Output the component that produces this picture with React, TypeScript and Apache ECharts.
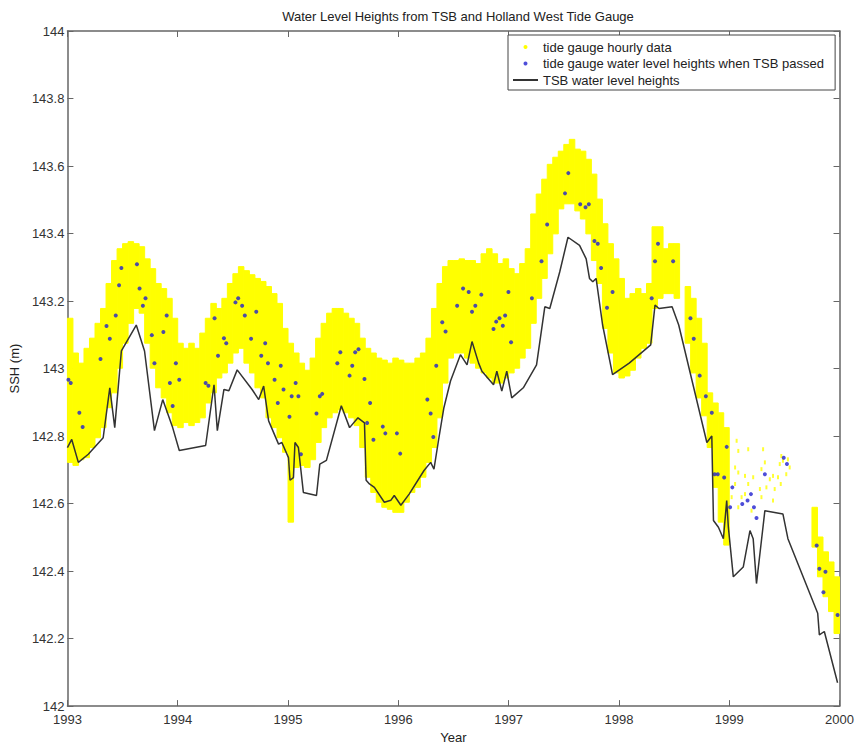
import React, { useEffect, useRef } from "react";
import * as echarts from "echarts";

// ---------- data ----------
const xTickYears = [1993, 1994, 1995, 1996, 1997, 1998, 1999, 2000];

// hourly tide gauge data, summarised as min/max envelope per 0.05-year bin
const BIN = 0.05;
const hourlyBinYear = [
  1993.00, 1993.05, 1993.10, 1993.15, 1993.20, 1993.25, 1993.30, 1993.35, 1993.40, 1993.45,
  1993.50, 1993.55, 1993.60, 1993.65, 1993.70, 1993.75, 1993.80, 1993.85, 1993.90, 1993.95,
  1994.00, 1994.05, 1994.10, 1994.15, 1994.20, 1994.25, 1994.30, 1994.35, 1994.40, 1994.45,
  1994.50, 1994.55, 1994.60, 1994.65, 1994.70, 1994.75, 1994.80, 1994.85, 1994.90, 1994.95,
  1995.00, 1995.05, 1995.10, 1995.15, 1995.20, 1995.25, 1995.30, 1995.35, 1995.40, 1995.45,
  1995.50, 1995.55, 1995.60, 1995.65, 1995.70, 1995.75, 1995.80, 1995.85, 1995.90, 1995.95,
  1996.00, 1996.05, 1996.10, 1996.15, 1996.20, 1996.25, 1996.30, 1996.35, 1996.40, 1996.45,
  1996.50, 1996.55, 1996.60, 1996.65, 1996.70, 1996.75, 1996.80, 1996.85, 1996.90, 1996.95,
  1997.00, 1997.05, 1997.10, 1997.15, 1997.20, 1997.25, 1997.30, 1997.35, 1997.40, 1997.45,
  1997.50, 1997.55, 1997.60, 1997.65, 1997.70, 1997.75, 1997.80, 1997.85, 1997.90, 1997.95,
  1998.00, 1998.05, 1998.10, 1998.15, 1998.20, 1998.25, 1998.30, 1998.35, 1998.40, 1998.45,
  1998.50, 1998.60, 1998.65, 1998.70, 1998.75, 1998.80, 1998.85, 1998.90, 1998.95,
  1999.75, 1999.80, 1999.85, 1999.90, 1999.95,
];
const hourlyHigh = [
  143.149, 143.046, 143.016, 143.060, 143.090, 143.134, 143.178, 143.252, 143.320, 143.355,
  143.370, 143.376, 143.370, 143.361, 143.325, 143.296, 143.252, 143.237, 143.208, 143.149,
  143.075, 143.060, 143.075, 143.060, 143.105, 143.149, 143.193, 143.178, 143.208, 143.252,
  143.281, 143.302, 143.290, 143.278, 143.267, 143.258, 143.243, 143.222, 143.193, 143.119,
  143.075, 143.046, 143.016, 142.995, 143.031, 143.090, 143.134, 143.164, 143.178, 143.178,
  143.164, 143.149, 143.134, 143.090, 143.060, 143.046, 143.031, 143.025, 143.016, 143.031,
  143.025, 143.016, 143.016, 143.031, 143.046, 143.090, 143.178, 143.252, 143.302, 143.320,
  143.320, 143.325, 143.320, 143.320, 143.311, 143.340, 143.355, 143.340, 143.311, 143.325,
  143.296, 143.281, 143.311, 143.355, 143.458, 143.517, 143.561, 143.605, 143.626, 143.644,
  143.664, 143.679, 143.650, 143.644, 143.620, 143.576, 143.502, 143.429, 143.370, 143.325,
  143.267, 143.208, 143.222, 143.237, 143.222, 143.252, 143.420, 143.420, 143.355, 143.370,
  143.370, 143.243, 143.208, 143.149, 143.075, 142.928, 142.898, 142.869, 142.825,
  142.589, 142.501, 142.457, 142.427, 142.383,
];
const hourlyLow = [
  142.722, 142.713, 142.730, 142.736, 142.766, 142.795, 142.825, 142.884, 142.928, 143.001,
  143.075, 143.134, 143.178, 143.164, 143.075, 143.001, 142.943, 142.913, 142.869, 142.831,
  142.825, 142.840, 142.831, 142.840, 142.854, 142.898, 142.928, 142.972, 142.987, 143.016,
  143.046, 143.060, 143.016, 142.987, 142.943, 142.913, 142.854, 142.825, 142.795, 142.752,
  142.545, 142.707, 142.713, 142.707, 142.730, 142.781, 142.825, 142.854, 142.869, 142.878,
  142.869, 142.854, 142.831, 142.766, 142.678, 142.633, 142.604, 142.589, 142.583, 142.574,
  142.574, 142.604, 142.633, 142.648, 142.678, 142.722, 142.766, 142.854, 142.957, 143.031,
  143.046, 143.046, 143.031, 143.016, 143.001, 142.987, 142.972, 142.957, 142.957, 142.972,
  142.987, 143.001, 143.031, 143.060, 143.134, 143.208, 143.267, 143.340, 143.399, 143.473,
  143.488, 143.488, 143.467, 143.443, 143.399, 143.320, 143.252, 143.119, 143.046, 142.987,
  142.972, 142.978, 142.995, 143.031, 143.060, 143.075, 143.178, 143.208, 143.222, 143.222,
  143.208, 143.075, 142.987, 142.913, 142.860, 142.766, 142.648, 142.545, 142.477,
  142.471, 142.383, 142.324, 142.280, 142.215,
];

// sparse individual hourly readings during 1999
const sparseYear = [
  1999.067, 1999.082, 1999.172, 1999.307, 1999.053, 1999.082, 1999.143, 1999.172, 1999.217, 1999.292,
  1999.323, 1999.368, 1999.397, 1999.337, 1999.278, 1999.397, 1999.112, 1999.143, 1999.082, 1999.202,
  1999.292, 1999.442, 1999.467, 1999.517, 1999.487, 1999.548, 1999.472, 1999.458, 1999.532, 1999.412,
  1999.053, 1999.022,
];
const sparseValue = [
  142.786, 142.756, 142.761, 142.761, 142.707, 142.692, 142.682, 142.658, 142.678, 142.702,
  142.722, 142.672, 142.682, 142.648, 142.643, 142.609, 142.619, 142.628, 142.589, 142.579,
  142.619, 142.678, 142.658, 142.687, 142.727, 142.707, 142.741, 142.717, 142.731, 142.643,
  142.658, 142.619,
];

// tide gauge heights at TSB pass times
const passYear = [
  1993.009, 1993.030, 1993.108, 1993.138, 1993.300, 1993.354, 1993.384, 1993.438, 1993.468, 1993.489,
  1993.630, 1993.654, 1993.684, 1993.708, 1993.765, 1993.789, 1993.870, 1993.900, 1993.929, 1993.954,
  1993.983, 1994.014, 1994.253, 1994.278, 1994.334, 1994.365, 1994.419, 1994.440, 1994.523, 1994.548,
  1994.584, 1994.608, 1994.665, 1994.712, 1994.757, 1994.793, 1994.818, 1994.878, 1994.907, 1994.934,
  1994.959, 1995.013, 1995.033, 1995.069, 1995.094, 1995.117, 1995.258, 1995.288, 1995.310, 1995.447,
  1995.474, 1995.558, 1995.582, 1995.609, 1995.639, 1995.693, 1995.717, 1995.744, 1995.774, 1995.859,
  1995.882, 1995.987, 1996.017, 1996.263, 1996.293, 1996.317, 1996.344, 1996.398, 1996.428, 1996.533,
  1996.587, 1996.638, 1996.668, 1996.698, 1996.752, 1996.863, 1996.887, 1996.917, 1996.947, 1996.968,
  1996.998, 1997.022, 1997.211, 1997.298, 1997.349, 1997.511, 1997.541, 1997.649, 1997.697, 1997.727,
  1997.778, 1997.808, 1997.838, 1997.892, 1997.942, 1998.297, 1998.327, 1998.354, 1998.491, 1998.648,
  1998.678, 1998.732, 1998.788, 1998.842, 1998.867, 1998.896, 1998.954, 1998.977, 1999.008, 1999.028,
  1999.118, 1999.166, 1999.197, 1999.224, 1999.247, 1999.323, 1999.494, 1999.523, 1999.793, 1999.817,
  1999.854, 1999.872, 1999.982,
];
const passValue = [
  142.967, 142.957, 142.869, 142.827, 143.028, 143.126, 143.088, 143.157, 143.247, 143.298,
  143.309, 143.237, 143.186, 143.208, 143.099, 143.016, 143.108, 143.157, 142.957, 142.889,
  143.016, 142.967, 142.957, 142.949, 143.149, 143.038, 143.090, 143.075, 143.196, 143.208,
  143.186, 143.157, 143.088, 143.168, 143.038, 143.075, 143.016, 142.967, 142.898, 143.008,
  142.938, 142.857, 142.918, 142.957, 142.918, 142.746, 142.867, 142.918, 142.925, 143.016,
  143.048, 142.979, 143.008, 143.048, 143.057, 142.969, 142.839, 142.898, 142.789, 142.828,
  142.808, 142.808, 142.748, 142.908, 142.867, 142.797, 143.008, 143.137, 143.110, 143.186,
  143.237, 143.227, 143.168, 143.186, 143.219, 143.117, 143.139, 143.149, 143.127, 143.157,
  143.227, 143.078, 143.208, 143.318, 143.427, 143.519, 143.579, 143.487, 143.478, 143.487,
  143.378, 143.370, 143.298, 143.180, 143.227, 143.208, 143.318, 143.370, 143.318, 143.149,
  143.088, 142.979, 142.918, 142.869, 142.687, 142.687, 142.677, 142.768, 142.589, 142.648,
  142.599, 142.609, 142.628, 142.589, 142.557, 142.687, 142.736, 142.717, 142.476, 142.407,
  142.337, 142.398, 142.270,
];

// TSB derived water level heights
const tsbYear = [
  1993.000, 1993.039, 1993.099, 1993.189, 1993.324, 1993.384, 1993.429, 1993.489, 1993.624, 1993.699,
  1993.789, 1993.864, 1993.954, 1994.014, 1994.253, 1994.329, 1994.359, 1994.419, 1994.464, 1994.539,
  1994.674, 1994.734, 1994.779, 1994.824, 1994.914, 1994.944, 1995.004, 1995.018, 1995.049, 1995.063,
  1995.094, 1995.139, 1995.258, 1995.288, 1995.348, 1995.483, 1995.558, 1995.634, 1995.693, 1995.708,
  1995.738, 1995.783, 1995.873, 1995.933, 1995.963, 1996.023, 1996.098, 1996.233, 1996.293, 1996.323,
  1996.368, 1996.413, 1996.473, 1996.563, 1996.623, 1996.668, 1996.728, 1996.758, 1996.863, 1996.893,
  1996.938, 1996.983, 1997.028, 1997.133, 1997.253, 1997.328, 1997.373, 1997.463, 1997.538, 1997.643,
  1997.703, 1997.733, 1997.763, 1997.793, 1997.852, 1997.942, 1998.093, 1998.288, 1998.327, 1998.363,
  1998.482, 1998.542, 1998.797, 1998.842, 1998.857, 1998.902, 1998.947, 1998.977, 1998.992, 1999.037,
  1999.127, 1999.188, 1999.217, 1999.247, 1999.323, 1999.487, 1999.532, 1999.802, 1999.817, 1999.862,
  1999.982,
];
const tsbValue = [
  142.766, 142.790, 142.722, 142.746, 142.795, 142.943, 142.825, 143.052, 143.129, 143.052,
  142.816, 142.908, 142.825, 142.757, 142.772, 142.952, 142.816, 142.938, 142.934, 142.996,
  142.938, 142.908, 142.948, 142.845, 142.776, 142.781, 142.736, 142.669, 142.677, 142.781,
  142.766, 142.633, 142.624, 142.717, 142.728, 142.890, 142.825, 142.854, 142.839, 142.669,
  142.658, 142.648, 142.604, 142.610, 142.624, 142.595, 142.628, 142.698, 142.722, 142.702,
  142.795, 142.884, 142.963, 143.041, 143.011, 143.080, 143.016, 142.992, 142.952, 142.992,
  142.933, 142.992, 142.913, 142.943, 143.011, 143.183, 143.178, 143.286, 143.389, 143.365,
  143.325, 143.267, 143.257, 143.267, 143.129, 142.982, 143.016, 143.070, 143.188, 143.178,
  143.183, 143.129, 142.781, 142.800, 142.550, 142.530, 142.496, 142.609, 142.530, 142.383,
  142.412, 142.520, 142.496, 142.363, 142.579, 142.569, 142.496, 142.275, 142.211, 142.221,
  142.069,
];

const TITLE = "Water Level Heights from TSB and Holland West Tide Gauge";
const NAME_HOURLY = "tide gauge hourly data";
const NAME_PASS = "tide gauge water level heights when TSB passed";
const NAME_TSB = "TSB water level heights";

const FONT = "'Liberation Sans', Arial, Helvetica, sans-serif";
const AXIS_COLOR = "#666";
const YELLOW = "#ffff00";
const BLUE = "#2020d0";

export default function App() {
  const ref = useRef<HTMLDivElement | null>(null);

  useEffect(() => {
    if (!ref.current) return;
    const chart = echarts.init(ref.current, null, { renderer: "svg" });

    const hourlyData = hourlyBinYear.map((y, i) => [y, hourlyLow[i], hourlyHigh[i]]);
    const sparseData = sparseYear.map((y, i) => [y, sparseValue[i]]);
    const passData = passYear.map((y, i) => [y, passValue[i]]);
    const tsbData = tsbYear.map((y, i) => [y, tsbValue[i]]);

    const axisCommonX = {
      type: "value" as const,
      min: 1993,
      max: 2000,
      interval: 1,
      splitLine: { show: false },
      axisLine: { show: true, lineStyle: { color: AXIS_COLOR, width: 1.5 } },
      axisTick: { show: true, inside: true, length: 6, lineStyle: { color: AXIS_COLOR, width: 1 } },
    };
    const axisCommonY = {
      type: "value" as const,
      min: 142,
      max: 144,
      interval: 0.2,
      splitLine: { show: false },
      axisLine: { show: true, lineStyle: { color: AXIS_COLOR, width: 1.5 } },
      axisTick: { show: true, inside: true, length: 6, lineStyle: { color: AXIS_COLOR, width: 1 } },
    };

    chart.setOption({
      animation: false,
      backgroundColor: "#ffffff",
      textStyle: { fontFamily: FONT },
      title: {
        text: TITLE,
        left: 453,
        top: 5,
        textAlign: "center",
        textStyle: { fontFamily: FONT, fontSize: 13, fontWeight: "normal", color: "#222" },
      },
      grid: { left: 64, right: 15, top: 31, bottom: 39, containLabel: false },
      legend: {
        orient: "vertical",
        left: 508,
        top: 35,
        padding: [5, 11, 3, 4],
        itemGap: 2.5,
        itemWidth: 25,
        itemHeight: 4,
        selectedMode: false,
        backgroundColor: "#ffffff",
        borderColor: "#444",
        borderWidth: 1,
        borderRadius: 0,
        textStyle: { fontFamily: FONT, fontSize: 13, color: "#222", lineHeight: 14 },
        data: [
          { name: NAME_HOURLY, icon: "circle", itemStyle: { color: YELLOW } },
          { name: NAME_PASS, icon: "circle", itemStyle: { color: BLUE } },
          { name: NAME_TSB, itemStyle: { color: "rgba(0,0,0,0)", opacity: 0 } },
        ],
      },
      xAxis: [
        {
          ...axisCommonX,
          position: "bottom",
          name: "Year",
          nameLocation: "middle",
          nameGap: 15,
          nameTextStyle: { fontFamily: FONT, fontSize: 13, color: "#222" },
          axisLabel: {
            show: true,
            margin: 7,
            fontFamily: FONT,
            fontSize: 13,
            color: "#333",
            formatter: (v: number) => (xTickYears.includes(Math.round(v)) ? String(Math.round(v)) : ""),
          },
        },
        { ...axisCommonX, position: "top", axisLabel: { show: false } },
      ],
      yAxis: [
        {
          ...axisCommonY,
          position: "left",
          name: "SSH (m)",
          nameLocation: "middle",
          nameGap: 37,
          nameRotate: 90,
          nameTextStyle: { fontFamily: FONT, fontSize: 13, color: "#222" },
          axisLabel: {
            show: true,
            margin: 3,
            fontFamily: FONT,
            fontSize: 13,
            color: "#333",
            formatter: (v: number) => String(Math.round(v * 10) / 10),
          },
        },
        { ...axisCommonY, position: "right", axisLabel: { show: false } },
      ],
      series: [
        {
          name: NAME_HOURLY,
          type: "custom",
          xAxisIndex: 0,
          yAxisIndex: 0,
          itemStyle: { color: YELLOW },
          encode: { x: 0, y: [1, 2] },
          data: hourlyData,
          z: 1,
          renderItem: (params: any, api: any) => {
            const x0 = api.value(0);
            const lo = api.value(1);
            const hi = api.value(2);
            const p1 = api.coord([x0, hi]);
            const p2 = api.coord([x0 + BIN, lo]);
            return {
              type: "rect",
              shape: { x: p1[0], y: p1[1], width: p2[0] - p1[0], height: p2[1] - p1[1] },
              style: { fill: YELLOW, stroke: YELLOW, lineWidth: 1 },
            };
          },
        },
        {
          name: NAME_HOURLY,
          type: "scatter",
          xAxisIndex: 0,
          yAxisIndex: 0,
          symbol: "rect",
          symbolSize: [2, 4],
          itemStyle: { color: YELLOW },
          data: sparseData,
          z: 2,
        },
        {
          name: NAME_PASS,
          type: "scatter",
          xAxisIndex: 0,
          yAxisIndex: 0,
          symbol: "circle",
          symbolSize: 4,
          itemStyle: { color: BLUE },
          data: passData,
          z: 3,
        },
        {
          name: NAME_TSB,
          type: "line",
          xAxisIndex: 0,
          yAxisIndex: 0,
          showSymbol: false,
          symbol: "none",
          lineStyle: { color: "#333", width: 1.5 },
          itemStyle: { color: "#333" },
          data: tsbData,
          z: 4,
        },
      ],
    });

    return () => {
      chart.dispose();
    };
  }, []);

  return (
    <div
      ref={ref}
      style={{ position: "fixed", left: 0, top: 0, width: 857, height: 749, background: "#fff" }}
    />
  );
}
